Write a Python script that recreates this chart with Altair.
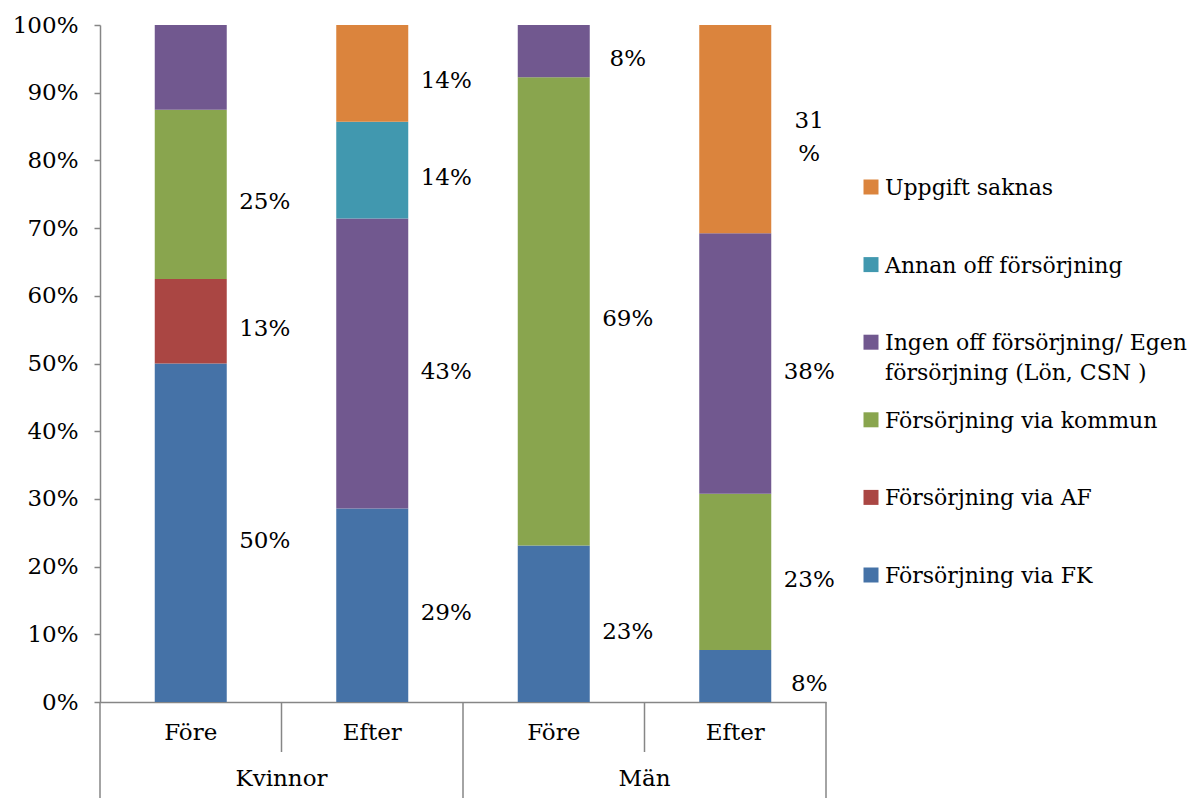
import altair as alt
import pandas as pd

groups = ["Kvinnor", "Kvinnor", "Män", "Män"]
periods = ["Före", "Efter", "Före", "Efter"]

series = ["Försörjning via FK", "Försörjning via AF", "Försörjning via kommun",
          "Ingen off försörjning/ Egen försörjning (Lön, CSN )",
          "Annan off försörjning", "Uppgift saknas"]
legend_text = ["Försörjning via FK", "Försörjning via AF", "Försörjning via kommun",
               "Ingen off försörjning/ Egen\nförsörjning (Lön, CSN )",
               "Annan off försörjning", "Uppgift saknas"]
colors = ["#4572A7", "#AA4643", "#89A54E", "#71588F", "#4198AF", "#DB843D"]

# share (%) per bar: Kvinnor Före, Kvinnor Efter, Män Före, Män Efter
fk = [50.0, 28.6, 23.1, 7.7]
af = [12.5, 0.0, 0.0, 0.0]
kommun = [25.0, 0.0, 69.2, 23.1]
ingen = [12.5, 42.9, 7.7, 38.5]
annan = [0.0, 14.3, 0.0, 0.0]
uppgift = [0.0, 14.3, 0.0, 30.8]

lab_fk = ["50%", "29%", "23%", "8%"]
lab_af = ["13%", "", "", ""]
lab_kommun = ["25%", "", "69%", "23%"]
lab_ingen = ["", "43%", "8%", "38%"]
lab_annan = ["", "14%", "", ""]
lab_uppgift = ["", "14%", "", "31\n%"]

y_ticks = [0, 0.1, 0.2, 0.3, 0.4, 0.5, 0.6, 0.7, 0.8, 0.9, 1.0]

all_vals = [fk, af, kommun, ingen, annan, uppgift]
all_labs = [lab_fk, lab_af, lab_kommun, lab_ingen, lab_annan, lab_uppgift]
keys = [f"{g}|{p}|{i}" for i, (g, p) in enumerate(zip(groups, periods))]

rows = []
for i, k in enumerate(keys):
    for j, s in enumerate(series):
        v = all_vals[j][i]
        if v > 0:
            rows.append({"key": k, "series": s, "order": j, "value": v,
                         "label": all_labs[j][i]})
df = pd.DataFrame(rows)

FONT = "DejaVu Serif"
FS = 23
LFS = 22
GRAY = "#868686"

xscale = alt.Scale(domain=keys, paddingInner=0, paddingOuter=0)
yscale = alt.Scale(domain=[0, 1], nice=False)
cscale = alt.Scale(domain=series, range=colors)

base = alt.Chart(df).transform_stack(
    stack="value", groupby=["key"], as_=["v0", "v1"], offset="normalize",
    sort=[alt.SortField("order", "ascending")]
)

bars = base.mark_bar(size=72).encode(
    x=alt.X("key:N", scale=xscale, title=None,
            axis=alt.Axis(labelExpr="split(datum.label, '|')[1]", ticks=False,
                          labelAngle=0, labelPadding=19, labelFont=FONT,
                          labelFontSize=FS, labelColor="black",
                          domainColor=GRAY, domainWidth=1.5)),
    y=alt.Y("v0:Q", scale=yscale, title=None,
            axis=alt.Axis(values=y_ticks, format="%", grid=False, tickSize=6,
                          tickColor=GRAY, tickWidth=1.5, domainColor=GRAY,
                          domainWidth=1.5, labelPadding=16, labelFont=FONT,
                          labelFontSize=FS, labelColor="black")),
    y2="v1:Q",
    color=alt.Color("series:N", scale=cscale, legend=None),
)

# centre multi-line labels on the segment middle (half a 33px line = 0.0244 of 677px)
texts = base.transform_calculate(
    mid="(datum.v0 + datum.v1) / 2 + (indexof(datum.label, '\\n') >= 0 ? 0.0244 : 0)"
).mark_text(
    align="center", baseline="middle", dx=74, dy=8, font=FONT, fontSize=FS,
    lineBreak="\n", lineHeight=33, color="black"
).encode(
    x=alt.X("key:N", scale=xscale),
    y=alt.Y("mid:Q", scale=yscale, axis=None),
    text="label:N",
)

grp_df = pd.DataFrame({"group": ["Kvinnor", "Män"], "key": [keys[1], keys[3]]})
grp_text = alt.Chart(grp_df).mark_text(
    align="center", baseline="middle", font=FONT, fontSize=FS, color="black"
).encode(
    x=alt.X("key:N", scale=xscale, bandPosition=0),
    y=alt.value(754),
    text="group:N",
)

# category separators below the axis
def sep(xpix, y2pix):
    return alt.Chart(pd.DataFrame({"a": [0]})).mark_rule(
        color=GRAY, strokeWidth=1.5
    ).encode(x=alt.value(xpix), y=alt.value(677), y2=alt.value(y2pix))

seps = [sep(0, 773), sep(181.5, 727), sep(363, 773), sep(544.5, 727), sep(726, 773)]

leg_df = pd.DataFrame({"series": series, "text": legend_text})
leg_order = list(reversed(series))
leg_y = alt.Y("series:N",
              scale=alt.Scale(domain=leg_order, range=[162, 550], padding=0),
              axis=None)
leg_sym = alt.Chart(leg_df).mark_square(size=225, opacity=1).encode(
    x=alt.value(771),
    y=leg_y,
    color=alt.Color("series:N", scale=cscale, legend=None),
)
leg_txt = alt.Chart(leg_df).mark_text(
    align="left", baseline="alphabetic", dy=8, font=FONT, fontSize=LFS,
    lineBreak="\n", lineHeight=30, color="black"
).encode(
    x=alt.value(785),
    y=leg_y,
    text="text:N",
)

chart = alt.layer(bars, texts, grp_text, *seps, leg_sym, leg_txt).resolve_scale(
    y="independent"
).properties(
    width=726, height=677,
    autosize=alt.AutoSizeParams(type="none"),
    padding={"left": 92, "top": 17, "right": 364, "bottom": 96},
).configure(font=FONT).configure_view(stroke=None)

chart.save("out.html", embed_options={"renderer": "svg", "actions": False})
